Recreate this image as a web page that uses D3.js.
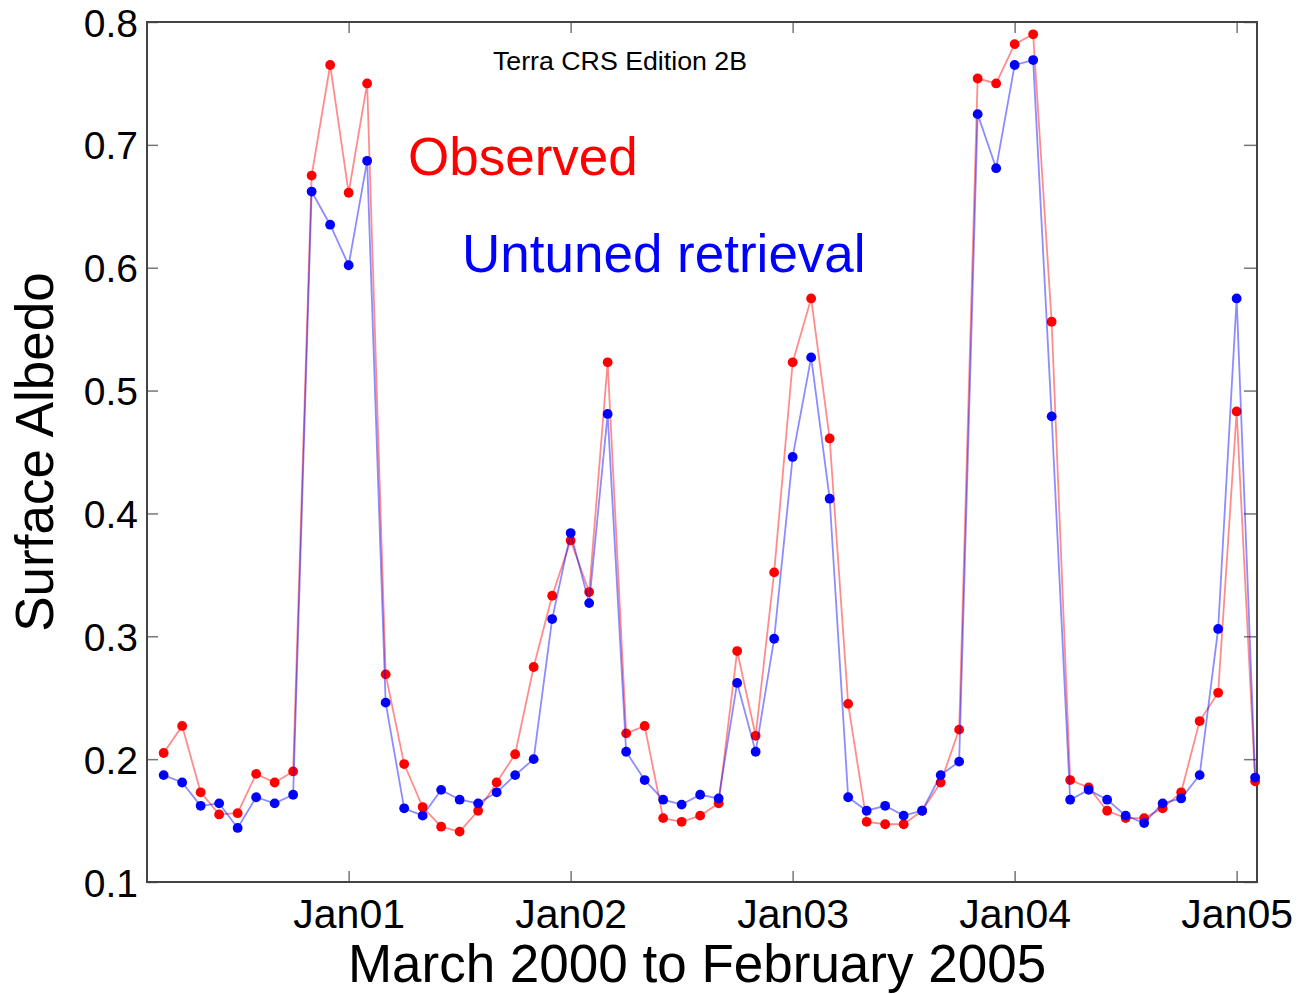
<!DOCTYPE html>
<html lang="en">
<head>
<meta charset="UTF-8">
<title>Surface Albedo</title>
<style>
  body { margin: 0; background: #fff; }
  svg text { font-family: "Liberation Sans", Arial, sans-serif; fill: #000; }
  .tick line { stroke: #777; stroke-width: 1.5px; }
  .tick text { font-size: 39px; }
  .xaxis .tick text { font-size: 41px; }
  .frame { fill: none; stroke: #444; stroke-width: 2px; }
</style>
</head>
<body>
<script src="https://cdnjs.cloudflare.com/ajax/libs/d3/7.8.5/d3.min.js"></script>
<script>

// monthly values, March 2000 .. February 2005 (index 0 = Mar 2000)
var observed = [
  0.205, 0.227, 0.173, 0.155, 0.156, 0.188, 0.181, 0.190, 0.675, 0.765,
  0.661, 0.750, 0.269, 0.196, 0.161, 0.145, 0.141, 0.158, 0.181, 0.204,
  0.275, 0.333, 0.378, 0.336, 0.523, 0.221, 0.227, 0.152, 0.149, 0.154,
  0.164, 0.288, 0.219, 0.352, 0.523, 0.575, 0.461, 0.245, 0.149, 0.147,
  0.147, 0.158, 0.181, 0.224, 0.754, 0.750, 0.782, 0.790, 0.556, 0.183,
  0.177, 0.158, 0.152, 0.152, 0.160, 0.173, 0.231, 0.254, 0.483, 0.182
];

var untuned = [
  0.187, 0.181, 0.162, 0.164, 0.144, 0.169, 0.164, 0.171, 0.662, 0.635,
  0.602, 0.687, 0.246, 0.160, 0.154, 0.175, 0.167, 0.164, 0.173, 0.187,
  0.200, 0.314, 0.384, 0.327, 0.481, 0.206, 0.183, 0.167, 0.163, 0.171,
  0.168, 0.262, 0.206, 0.298, 0.446, 0.527, 0.412, 0.169, 0.158, 0.162,
  0.154, 0.158, 0.187, 0.198, 0.725, 0.681, 0.765, 0.769, 0.479, 0.167,
  0.175, 0.167, 0.154, 0.148, 0.164, 0.168, 0.187, 0.306, 0.575, 0.185
];

var xTickIndex = [10, 22, 34, 46, 58];
var xTickLabels = ["Jan01", "Jan02", "Jan03", "Jan04", "Jan05"];
var yTicks = [0.1, 0.2, 0.3, 0.4, 0.5, 0.6, 0.7, 0.8];

var width = 1303,
    height = 994,
    plotL = 147, plotR = 1257, plotT = 22, plotB = 882;

var svg = d3.select("body").append("svg")
  .attr("width", width)
  .attr("height", height);

var x = d3.scaleLinear().domain([-0.9, 59.1]).range([plotL, plotR]);
var y = d3.scaleLinear().domain([0.1, 0.8]).range([plotB, plotT]);

// axes, ticks pointing inward
svg.append("g")
  .attr("class", "xaxis")
  .attr("transform", "translate(0," + plotB + ")")
  .call(d3.axisBottom(x).tickValues(xTickIndex).tickSize(-11).tickPadding(17)
    .tickFormat(function(d, i){ return xTickLabels[i]; }))
  .call(function(g){ g.select(".domain").remove(); });

svg.append("g")
  .attr("transform", "translate(0," + plotT + ")")
  .call(d3.axisTop(x).tickValues(xTickIndex).tickSize(-11).tickFormat(""))
  .call(function(g){ g.select(".domain").remove(); });

svg.append("g")
  .attr("transform", "translate(" + plotL + ",0)")
  .call(d3.axisLeft(y).tickValues(yTicks).tickSize(-11).tickPadding(9)
    .tickFormat(d3.format(".1f")))
  .call(function(g){
    g.select(".domain").remove();
    g.selectAll(".tick text").attr("dy", "0.36em");
  });

svg.append("g")
  .attr("transform", "translate(" + plotR + ",0)")
  .call(d3.axisRight(y).tickValues(yTicks).tickSize(-13).tickFormat(""))
  .call(function(g){ g.select(".domain").remove(); });

svg.append("rect")
  .attr("class", "frame")
  .attr("x", plotL)
  .attr("y", plotT)
  .attr("width", plotR - plotL)
  .attr("height", plotB - plotT);

var line = d3.line()
  .x(function(d, i){ return x(i); })
  .y(function(d){ return y(d); });

function series(values, color) {
  svg.append("path")
    .datum(values)
    .attr("d", line)
    .attr("fill", "none")
    .attr("stroke", color)
    .attr("stroke-opacity", 0.45)
    .attr("stroke-width", 1.8);
  svg.append("g").selectAll("circle")
    .data(values)
    .enter().append("circle")
      .attr("cx", function(d, i){ return x(i); })
      .attr("cy", function(d){ return y(d); })
      .attr("r", 4.9)
      .attr("fill", color);
}

series(observed, "#ff0000");
series(untuned, "#0000ff");

// labels
svg.append("text")
  .attr("x", 493)
  .attr("y", 70)
  .attr("textLength", 254)
  .attr("lengthAdjust", "spacingAndGlyphs")
  .style("font-size", "25px")
  .text("Terra CRS Edition 2B");

svg.append("text")
  .attr("x", 408)
  .attr("y", 175)
  .style("font-size", "53px")
  .style("fill", "#ff0000")
  .text("Observed");

svg.append("text")
  .attr("x", 462)
  .attr("y", 272)
  .style("font-size", "53px")
  .style("fill", "#0000ff")
  .text("Untuned retrieval");

svg.append("text")
  .attr("x", 697)
  .attr("y", 982)
  .attr("text-anchor", "middle")
  .style("font-size", "53px")
  .text("March 2000 to February 2005");

svg.append("text")
  .attr("transform", "translate(53," + ((plotT + plotB) / 2) + ") rotate(-90)")
  .attr("text-anchor", "middle")
  .style("font-size", "53px")
  .text("Surface Albedo");

</script>
</body>
</html>
